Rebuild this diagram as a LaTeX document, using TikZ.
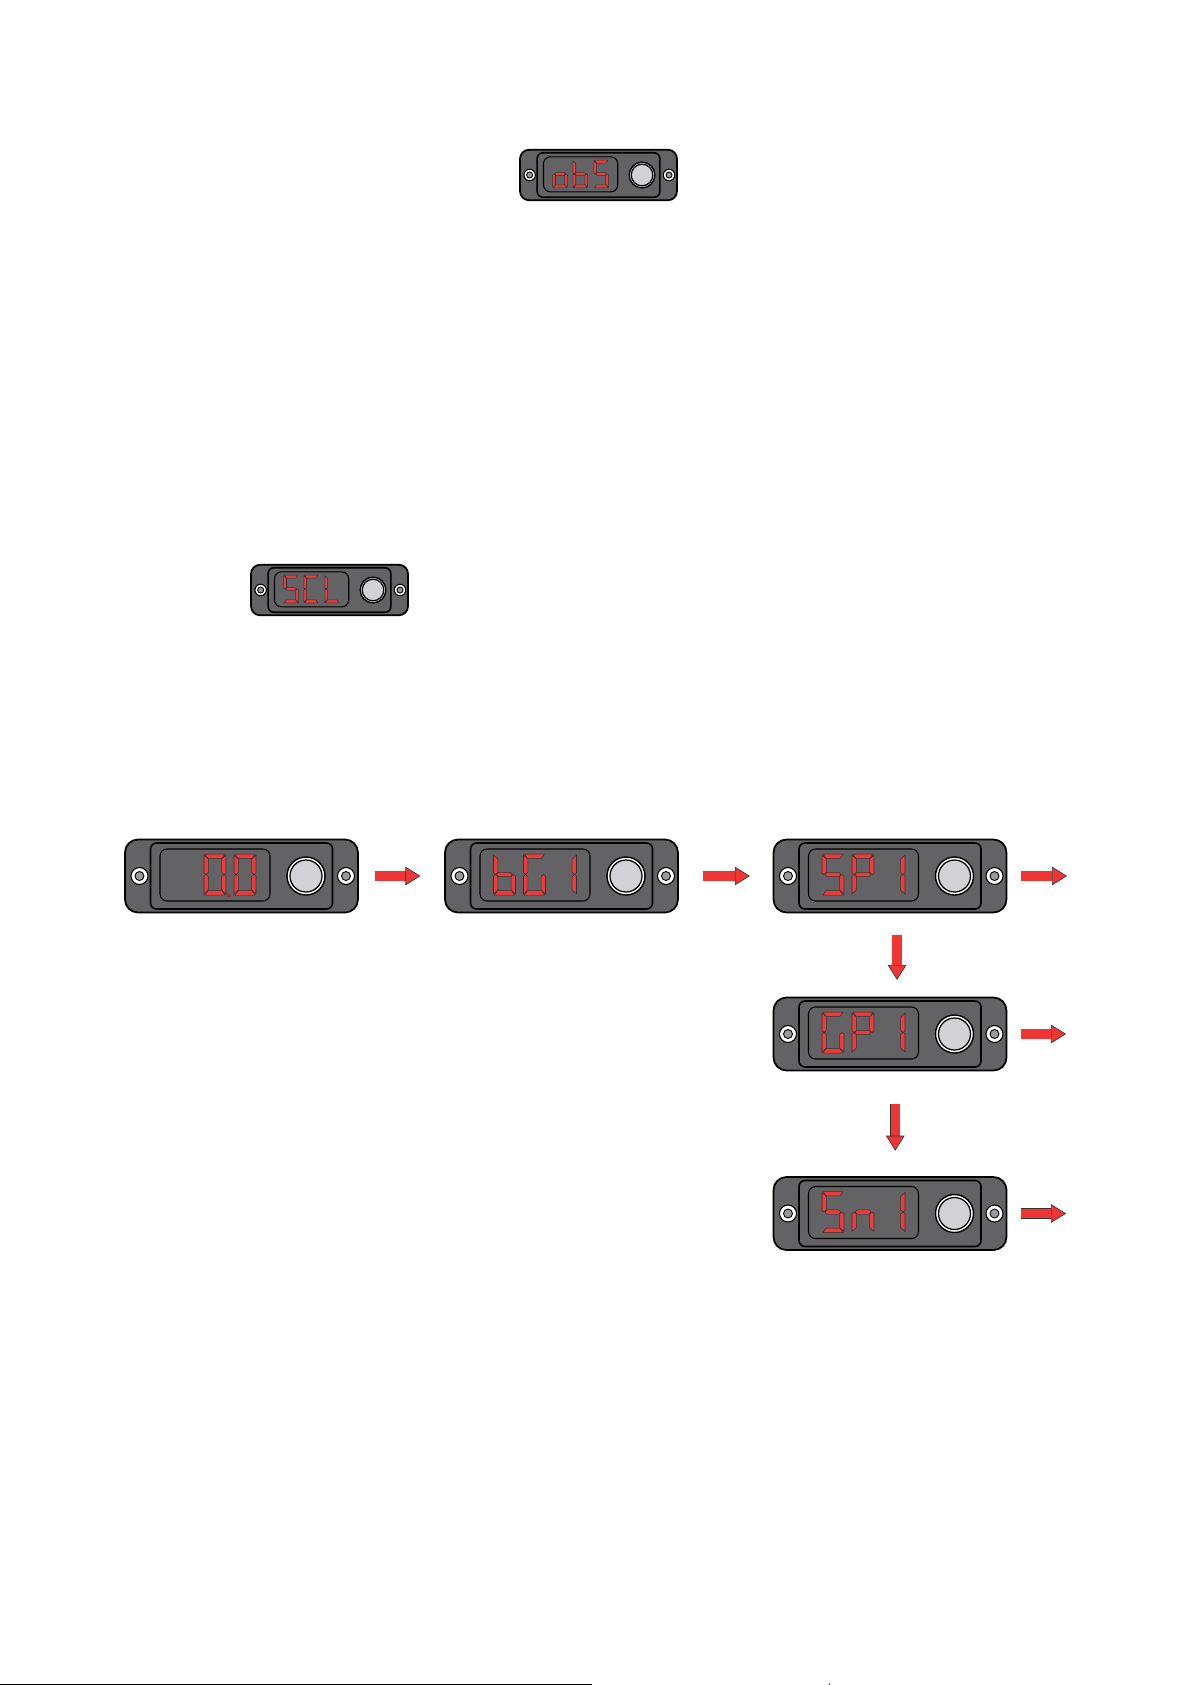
\documentclass[tikz,border=0pt]{standalone}
\usepackage{amsmath}
\usepackage{tikz}
\usetikzlibrary{arrows.meta}
\definecolor{bodygrey}{HTML}{636365}
\definecolor{segred}{HTML}{F03A3A}
\definecolor{btngrey}{HTML}{D2D2D6}
\definecolor{arrowred}{HTML}{F03535}
\newcommand{\segA}{\path[seg] (1,0)--(21,0)--(18,4.3)--(4,4.3)--cycle;}
\newcommand{\segB}{\path[seg] (22,1)--(22,19)--(20,20.5)--(17.7,18.5)--(17.7,5)--cycle;}
\newcommand{\segC}{\path[seg] (22,22)--(22,40)--(17.7,36)--(17.7,22.5)--(20,20.5)--cycle;}
\newcommand{\segD}{\path[seg] (1,41)--(21,41)--(18,36.7)--(4,36.7)--cycle;}
\newcommand{\segE}{\path[seg] (0,22)--(0,40)--(4.3,36)--(4.3,22.5)--(2,20.5)--cycle;}
\newcommand{\segF}{\path[seg] (0,1)--(0,19)--(2,20.5)--(4.3,18.5)--(4.3,5)--cycle;}
\newcommand{\segG}{\path[seg] (3,20.5)--(5.2,18.4)--(16.8,18.4)--(19,20.5)--(16.8,22.6)--(5.2,22.6)--cycle;}
\tikzset{
  seg/.style={fill=segred, draw=black!80, line width=.3pt},
  devbody/.style={draw=black, line width=1pt, fill=bodygrey, rounded corners=.26cm,
    minimum width=4.66cm, minimum height=1.46cm, inner sep=0pt, outer sep=0pt},
  devsmall/.style={minimum width=3.14cm, minimum height=1.01cm, rounded corners=.18cm},
  blockarrow/.style={draw=black!80, line width=.35pt, double=arrowred, double distance=5.2pt,
    -{Triangle[length=8.5pt, width=10.5pt, fill=arrowred]}},
  glyph o/.pic={\segC \segD \segE \segG},
  glyph b/.pic={\segC \segD \segE \segF \segG},
  glyph S/.pic={\segA \segF \segG \segC \segD},
  glyph C/.pic={\segA \segF \segE \segD},
  glyph L/.pic={\segF \segE \segD},
  glyph G/.pic={\segA \segF \segE \segD \segC},
  glyph P/.pic={\segA \segB \segF \segG \segE},
  glyph n/.pic={\segC \segE \segG},
  glyph 1/.pic={\segB \segC},
  glyph 0/.pic={\segA \segB \segC \segD \segE \segF},
  glyph dot/.pic={\fill[segred!70!black] (0,41.5) circle (2);},
  screw/.pic={
    \draw[black, line width=.6pt, fill=white] (0,0) circle (8.5);
    \draw[black, line width=.5pt, fill=black!40] (0,0) circle (4.5);
  },
  devface/.pic={
    \draw[black, line width=.9pt, fill=bodygrey, rounded corners=.12cm] (-91,-33) rectangle (91,33);
    \draw[black, line width=.6pt, fill=bodygrey, rounded corners=.14cm] (-81.5,-27) rectangle (28.5,25);
    \draw[black, line width=.8pt, fill=white] (64.5,0) circle (19);
    \draw[black, line width=.7pt, fill=btngrey] (64.5,0) circle (16);
    \pic[transform shape] at (-102,0) {screw};
    \pic[transform shape] at (104.5,0) {screw};
    \foreach \g/\x in {#1} {
      \pic[transform shape] at (\x,-22) {glyph \g};
    }
  }
}

\begin{document}
\begin{tikzpicture}[x=.02cm, y=-.02cm]
\useasboundingbox (0,0) rectangle (1191,1685);
% small panels
\node[devbody, devsmall] (obs) at (598.5,175) {};
\node[devbody, devsmall] (scl) at (329.5,590) {};
\pic[scale=.675] at (obs) {devface={o/-68,b/-38,S/-7}};
\pic[scale=.675] at (scl) {devface={S/-68,C/-38,L/-7}};
% menu panels
\node[devbody] (zero) at (241.5,876)  {};
\node[devbody] (bg)   at (561.5,876)  {};
\node[devbody] (sp)   at (890,876)    {};
\node[devbody] (gp)   at (890,1034)   {};
\node[devbody] (sn)   at (890,1213.5) {};
\pic at (zero) {devface={0/-37.5,0/-7.5,dot/-12.5}};
\pic at (bg)   {devface={b/-68,G/-38,1/-7}};
\pic at (sp)   {devface={S/-68,P/-38,1/-7}};
\pic at (gp)   {devface={G/-68,P/-38,1/-7}};
\pic at (sn)   {devface={S/-68,n/-38,1/-7}};
% free ends
\coordinate (spout) at (1067,876);
\coordinate (gpout) at (1066,1034);
\coordinate (snout) at (1066,1213.5);
\draw[blockarrow, shorten <=9.5pt, shorten >=14pt] (zero) to (bg);
\draw[blockarrow, shorten <=14pt, shorten >=13.5pt] (bg) to (sp);
\draw[blockarrow, shorten <=8.5pt] (sp.east) to (spout);
\draw[blockarrow, shorten <=8pt] (gp.east) to (gpout);
\draw[blockarrow, shorten <=8pt] (sn.east) to (snout);
\draw[blockarrow, shorten <=13pt, shorten >=10pt] ([xshift=4pt]sp.south) to ([xshift=4pt]gp.north);
\draw[blockarrow, shorten <=19pt, shorten >=15pt] ([xshift=3pt]gp.south) to ([xshift=3pt]sn.north);
% page rule
\coordinate (rulea) at (0,1684.5);
\coordinate (ruleb) at (592,1684.5);
\coordinate (ticka) at (829,1683);
\coordinate (tickb) at (829,1685);
\draw[black, line width=.8pt] (rulea) to (ruleb);
\draw[black!70, line width=.4pt] (ticka) to (tickb);
\end{tikzpicture}
\end{document}
